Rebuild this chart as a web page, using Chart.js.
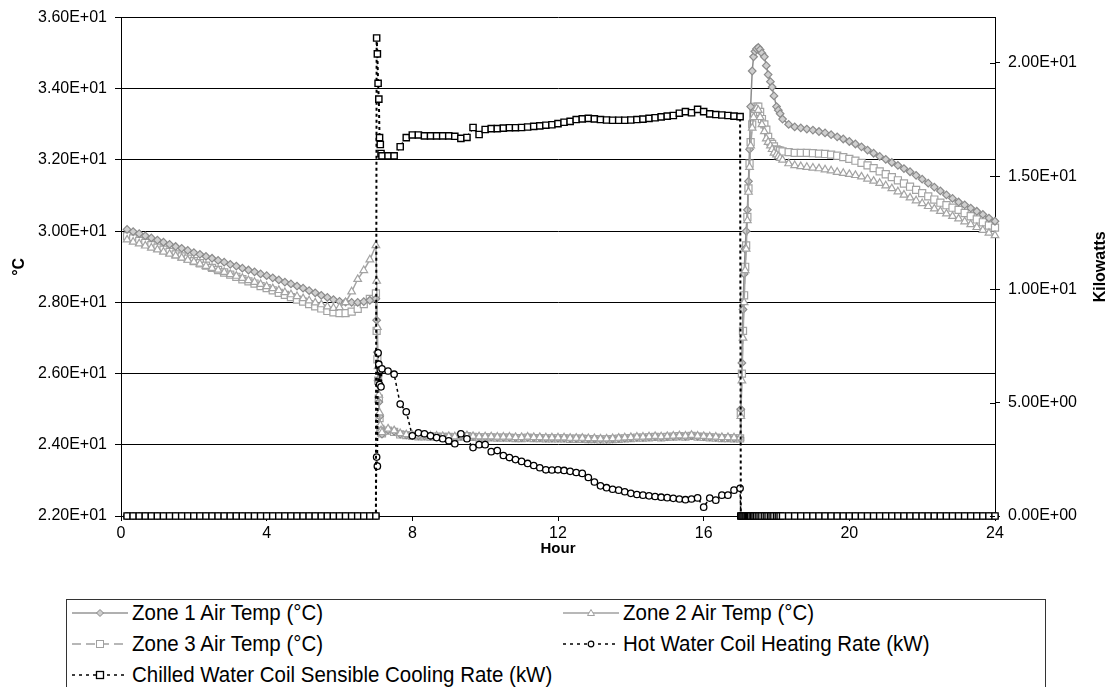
<!DOCTYPE html>
<html>
<head>
<meta charset="utf-8">
<script src="https://cdn.jsdelivr.net/npm/chart.js@4.4.1/dist/chart.umd.min.js"></script>
<style>
  body { margin:0; width:1110px; height:687px; background:#fff; position:relative; overflow:hidden; font-family:"Liberation Sans", Arial, sans-serif; }
  #c { position:absolute; left:0; top:0; }
  .legend { position:absolute; left:66px; top:599px; width:980px; height:110px; border:1px solid #333; box-sizing:border-box; }
  .item { position:absolute; height:20px; display:flex; align-items:center; white-space:nowrap; }
  .item svg { flex:none; }
  .item span { display:inline-block; margin-left:4px; font-size:22.5px; line-height:20px; transform:scaleX(.91); transform-origin:left center; color:#000; }
</style>
</head>
<body>
<canvas id="c" width="1110" height="560"></canvas>
<div class="legend">
  <div class="item" style="left:5px;top:3px">
    <svg width="56" height="20"><line x1="0" y1="10" x2="56" y2="10" stroke="#969696" stroke-width="1.5"/><polygon points="28,6.5 31.5,10 28,13.5 24.5,10" fill="#cfcfcf" stroke="#888" stroke-width="1"/></svg>
    <span>Zone 1 Air Temp (°C)</span>
  </div>
  <div class="item" style="left:496px;top:3px">
    <svg width="56" height="20"><line x1="0" y1="10" x2="56" y2="10" stroke="#a0a0a0" stroke-width="1.5"/><polygon points="28,6.5 31.5,12.5 24.5,12.5" fill="#fff" stroke="#a0a0a0" stroke-width="1"/></svg>
    <span>Zone 2 Air Temp (°C)</span>
  </div>
  <div class="item" style="left:5px;top:34px">
    <svg width="56" height="20"><line x1="0" y1="10" x2="56" y2="10" stroke="#a0a0a0" stroke-width="1.5" stroke-dasharray="9,5"/><rect x="24.5" y="6.5" width="7" height="7" fill="#fff" stroke="#a0a0a0" stroke-width="1"/></svg>
    <span>Zone 3 Air Temp (°C)</span>
  </div>
  <div class="item" style="left:496px;top:34px">
    <svg width="56" height="20"><line x1="0" y1="10" x2="56" y2="10" stroke="#000" stroke-width="1.5" stroke-dasharray="3,4"/><circle cx="28" cy="10" r="2.8" fill="#fff" stroke="#000" stroke-width="1.2"/></svg>
    <span>Hot Water Coil Heating Rate (kW)</span>
  </div>
  <div class="item" style="left:5px;top:65px">
    <svg width="56" height="20"><line x1="0" y1="10" x2="56" y2="10" stroke="#000" stroke-width="1.5" stroke-dasharray="3,4"/><rect x="24.5" y="6.5" width="7" height="7" fill="#fff" stroke="#000" stroke-width="1.3"/></svg>
    <span>Chilled Water Coil Sensible Cooling Rate (kW)</span>
  </div>
</div>
<script>
/* ── DATA ── */
// 10-minute timestep stamps (end of step), 0:10 .. 24:00
const hours = Array.from({ length: 144 }, (_, i) => (i + 1) / 6);

// °C, one value per timestep
const zone1 = [
  30.05,29.99,29.93,29.87,29.81,29.75, 29.69,29.63,29.57,29.52,29.46,29.40, 29.35,29.29,29.24,29.18,29.13,29.07,
  29.02,28.96,28.91,28.86,28.80,28.75, 28.69,28.63,28.57,28.52,28.46,28.40, 28.33,28.27,28.20,28.14,28.08,28.03,
  28.01,28.00,28.00,28.02,28.06,28.10,
  24.30,24.42,24.38,24.30,24.28,24.26, 24.25,24.25,24.24,24.24,24.23,24.23, 24.22,24.24,24.25,24.23,24.22,24.22,
  24.22,24.21,24.21,24.21,24.20,24.20, 24.21,24.20,24.20,24.19,24.19,24.19, 24.19,24.18,24.18,24.18,24.17,24.17,
  24.16,24.16,24.17,24.18,24.19,24.20, 24.21,24.21,24.22,24.23,24.22,24.23, 24.24,24.25,24.24,24.26,24.24,24.23,
  24.22,24.21,24.20,24.20,24.19,24.19,
  30.00,34.50,35.16,34.90,34.20,33.50, 33.15,33.00,32.93,32.90,32.87,32.84, 32.80,32.76,32.71,32.65,32.59,32.52,
  32.45,32.37,32.28,32.19,32.10,32.02, 31.93,31.85,31.76,31.67,31.57,31.46, 31.35,31.24,31.13,31.02,30.92,30.82,
  30.74,30.65,30.56,30.47,30.37,30.28
];
const zone2 = [
  29.76,29.70,29.65,29.59,29.53,29.48, 29.42,29.36,29.31,29.25,29.19,29.14, 29.08,29.02,28.96,28.91,28.85,28.79,
  28.74,28.68,28.62,28.57,28.51,28.45, 28.39,28.34,28.28,28.22,28.17,28.11, 28.05,27.99,27.94,27.88,27.84,27.86,
  28.00,28.30,28.65,28.90,29.20,29.60,
  24.35,24.45,24.40,24.32,24.29,24.27, 24.26,24.26,24.25,24.25,24.24,24.24, 24.23,24.25,24.26,24.24,24.23,24.23,
  24.23,24.22,24.22,24.22,24.21,24.21, 24.22,24.21,24.21,24.20,24.20,24.20, 24.20,24.19,24.19,24.19,24.18,24.18,
  24.17,24.17,24.18,24.19,24.20,24.21, 24.22,24.22,24.23,24.24,24.23,24.24, 24.25,24.26,24.25,24.27,24.25,24.24,
  24.23,24.22,24.21,24.21,24.20,24.20,
  29.50,32.90,33.40,32.80,32.40,32.15, 32.00,31.90,31.85,31.82,31.80,31.78, 31.76,31.73,31.70,31.66,31.63,31.60,
  31.57,31.53,31.47,31.41,31.35,31.28, 31.20,31.11,31.02,30.94,30.86,30.78, 30.70,30.63,30.56,30.49,30.42,30.35,
  30.27,30.19,30.11,30.03,29.95,29.88
];
const zone3 = [
  29.86,29.80,29.73,29.67,29.61,29.54, 29.48,29.42,29.35,29.29,29.23,29.16, 29.10,29.03,28.97,28.91,28.84,28.78,
  28.72,28.65,28.59,28.53,28.46,28.40, 28.34,28.27,28.21,28.15,28.08,28.02, 27.95,27.89,27.83,27.76,27.72,27.70,
  27.70,27.74,27.82,27.95,28.10,28.25,
  24.32,24.40,24.36,24.29,24.27,24.25, 24.24,24.24,24.23,24.23,24.22,24.22, 24.21,24.23,24.24,24.22,24.21,24.21,
  24.21,24.20,24.20,24.20,24.19,24.19, 24.20,24.19,24.19,24.18,24.18,24.18, 24.18,24.17,24.17,24.17,24.16,24.16,
  24.15,24.15,24.16,24.17,24.18,24.19, 24.20,24.20,24.21,24.22,24.21,24.22, 24.23,24.24,24.23,24.25,24.23,24.22,
  24.21,24.20,24.19,24.19,24.18,24.18,
  29.60,33.00,33.50,33.00,32.50,32.30, 32.24,32.22,32.20,32.20,32.20,32.19, 32.18,32.17,32.15,32.12,32.08,32.03,
  31.98,31.92,31.85,31.77,31.68,31.60, 31.52,31.43,31.34,31.25,31.16,31.07, 30.98,30.89,30.80,30.73,30.66,30.60,
  30.51,30.42,30.33,30.25,30.16,30.10
];

// kW, one value per timestep
const hotWater = [
  0,0,0,0,0,0, 0,0,0,0,0,0, 0,0,0,0,0,0, 0,0,0,0,0,0, 0,0,0,0,0,0, 0,0,0,0,0,0, 0,0,0,0,0,0,
  6.50,6.40,6.26,4.94,4.60,3.54, 3.67,3.63,3.54,3.46,3.41,3.32, 3.19,3.63,3.41,3.02,3.15,3.15,
  2.84,2.89,2.67,2.58,2.49,2.41, 2.32,2.23,2.13,2.04,2.03,2.04, 2.01,1.97,1.92,1.88,1.70,1.50,
  1.33,1.25,1.18,1.14,1.07,1.00, 0.95,0.92,0.89,0.86,0.83,0.81, 0.78,0.75,0.72,0.75,0.80,0.39,
  0.79,0.70,0.92,0.92,1.14,1.22,
  0,0,0,0,0,0, 0,0,0,0,0,0, 0,0,0,0,0,0, 0,0,0,0,0,0, 0,0,0,0,0,0, 0,0,0,0,0,0, 0,0,0,0,0,0
];
const chilledWater = [
  0,0,0,0,0,0, 0,0,0,0,0,0, 0,0,0,0,0,0, 0,0,0,0,0,0, 0,0,0,0,0,0, 0,0,0,0,0,0, 0,0,0,0,0,0,
  15.90,15.90,15.90,16.30,16.70,16.82, 16.82,16.78,16.78,16.78,16.78,16.78, 16.76,16.67,16.71,17.15,16.84,17.06,
  17.10,17.10,17.12,17.14,17.14,17.15, 17.17,17.20,17.22,17.25,17.27,17.32, 17.38,17.42,17.50,17.53,17.55,17.53,
  17.50,17.48,17.47,17.47,17.47,17.48, 17.50,17.52,17.55,17.58,17.62,17.65, 17.68,17.78,17.85,17.80,17.95,17.85,
  17.75,17.72,17.70,17.68,17.65,17.63,
  0,0,0,0,0,0, 0,0,0,0,0,0, 0,0,0,0,0,0, 0,0,0,0,0,0, 0,0,0,0,0,0, 0,0,0,0,0,0, 0,0,0,0,0,0
];

// extra system-timestep samples around start-up (7:00) and shut-down (17:00)
const detailHours = [7.02,7.04,7.06,7.08,7.10,7.12,7.14, 17.02,17.05,17.08,17.11,17.14,17.20,17.23,17.26,17.29,17.37,17.41,17.45,17.55,17.60,17.72,17.77,17.88,17.93,18.05,18.10];
const zone1Detail   = [27.5,26.6,25.8,25.2,24.8,24.5,24.35, 25.0,26.3,27.8,28.8,29.5,30.6,31.4,32.3,33.5,34.9,35.05,35.12,35.1,35.0,34.65,34.4,34.05,33.8,33.4,33.3];
const zone2Detail   = [28.6,27.3,26.2,25.4,24.9,24.55,24.4, 24.8,25.8,27.0,28.0,28.9,30.3,31.1,31.8,32.4,33.2,33.4,33.45,33.2,33.0,32.6,32.5,32.3,32.2,32.1,32.05];
const zone3Detail   = [27.2,26.4,25.8,25.3,24.75,24.45,24.35, 24.9,26.0,27.2,28.2,29.0,30.4,31.2,31.9,32.5,33.3,33.45,33.5,33.35,33.15,32.85,32.65,32.45,32.38,32.28,32.26];
const hotDetail     = [2.6,2.2,7.2,6.7,5.8,6.45,5.7, 0,0,0,0,0,0,0,0,0,0,0,0,0,0,0,0,0,0,0,0];
const chilledDetail = [21.1,20.4,19.1,18.4,16.7,16.4,16.0, 0,0,0,0,0,0,0,0,0,0,0,0,0,0,0,0,0,0,0,0];

const leftTicks  = { min: 22, max: 36, step: 2 };
const rightTicks = { min: 0, max: 22, step: 5 };

/* ── HELPERS ── */
const FONT = '"Liberation Sans", Arial, sans-serif';

function sci(v) {
  if (v === 0) return "0.00E+00";
  const e = Math.floor(Math.log10(Math.abs(v)) + 1e-9);
  const m = v / Math.pow(10, e);
  return m.toFixed(2) + "E" + (e < 0 ? "-" : "+") + String(Math.abs(e)).padStart(2, "0");
}

function points(grid, detail) {
  return hours.map((h, i) => ({ x: h, y: grid[i] }))
    .concat(detailHours.map((h, i) => ({ x: h, y: detail[i] })))
    .sort((a, b) => a.x - b.x);
}

/* ── EXTRAS: inner right ticks + right title ── */
const extras = {
  id: "extras",
  afterDraw(chart) {
    const { ctx, chartArea, scales: { y1 } } = chart;
    ctx.save();
    ctx.strokeStyle = "#000"; ctx.lineWidth = 1;
    y1.ticks.forEach(t => {
      const y = Math.round(y1.getPixelForValue(t.value)) + 0.5;
      ctx.beginPath(); ctx.moveTo(y1.left - 5, y); ctx.lineTo(y1.left, y); ctx.stroke();
    });
    ctx.fillStyle = "#000"; ctx.font = "bold 16px " + FONT;
    ctx.textAlign = "center"; ctx.textBaseline = "middle";
    ctx.translate(1101, (chartArea.top + chartArea.bottom) / 2);
    ctx.rotate(-Math.PI / 2);
    ctx.fillText("Kilowatts", 0, 0);
    ctx.restore();
  }
};

/* ── CHART ── */
const tickFont = { family: FONT, size: 16 };
const grayLine = (label, data, color, style, radius, bg, dash, order) => ({
  label, data, yAxisID: "y", order, clip: false,
  borderColor: color, borderWidth: 1.5, borderDash: dash,
  pointStyle: style, pointRadius: radius, pointBorderColor: color, pointBorderWidth: 1.2, pointBackgroundColor: bg,
  tension: 0
});

new Chart(document.getElementById("c").getContext("2d"), {
  type: "line",
  data: {
    datasets: [
      grayLine("Zone 1 Air Temp (°C)", points(zone1, zone1Detail), "#8c8c8c", "rectRot", 3.8, "#cfcfcf", [], 4),
      grayLine("Zone 2 Air Temp (°C)", points(zone2, zone2Detail), "#a3a3a3", "triangle", 4.4, "#fff", [], 3),
      grayLine("Zone 3 Air Temp (°C)", points(zone3, zone3Detail), "#a3a3a3", "rect", 5, "#fff", [8, 4], 5),
      { label: "Hot Water Coil Heating Rate (kW)", data: points(hotWater, hotDetail), yAxisID: "y1", order: 1, clip: false,
        borderColor: "#000", borderWidth: 1.5, borderDash: [3, 3],
        pointStyle: "circle", pointRadius: 3.2, pointBorderColor: "#000", pointBorderWidth: 1.3, pointBackgroundColor: "#fff", tension: 0 },
      { label: "Chilled Water Coil Sensible Cooling Rate (kW)", data: points(chilledWater, chilledDetail), yAxisID: "y1", order: 0, clip: false,
        borderColor: "#000", borderWidth: 2, borderDash: [3, 3],
        pointStyle: "rect", pointRadius: 4.4, pointBorderColor: "#000", pointBorderWidth: 1.4, pointBackgroundColor: "#fff", tension: 0 }
    ]
  },
  options: {
    responsive: false, animation: false, devicePixelRatio: 1,
    layout: { padding: { top: 13, left: 0, right: 0, bottom: 0 } },
    plugins: { legend: { display: false }, tooltip: { enabled: false } },
    scales: {
      x: {
        type: "linear", min: 0, max: 24,
        ticks: { stepSize: 4, color: "#000", font: tickFont, padding: 3, maxRotation: 0 },
        grid: { drawOnChartArea: false, tickLength: 5, color: "#000" },
        border: { color: "#000", width: 1 },
        title: { display: true, text: "Hour", color: "#000", font: { family: FONT, size: 15, weight: "bold" }, padding: { top: 0, bottom: 2 } },
        afterFit: s => { s.height = 44; }
      },
      y: {
        position: "left", min: leftTicks.min, max: leftTicks.max,
        ticks: { stepSize: leftTicks.step, color: "#000", font: tickFont, padding: 8, callback: v => sci(v) },
        grid: { color: "#000", lineWidth: 1, tickLength: 6 },
        border: { color: "#000", width: 1 },
        title: { display: true, text: "°C", color: "#000", font: { family: FONT, size: 16, weight: "bold" }, padding: { top: 10, bottom: 0 } },
        afterFit: s => { s.width = 121; }
      },
      y1: {
        position: "right", min: rightTicks.min, max: rightTicks.max,
        ticks: { stepSize: rightTicks.step, includeBounds: false, color: "#000", font: tickFont, padding: 8, callback: v => sci(v) },
        grid: { drawOnChartArea: false, tickLength: 5, color: "#000" },
        border: { color: "#000", width: 1 },
        afterFit: s => { s.width = 115; }
      }
    }
  },
  plugins: [extras]
});
</script>
</body>
</html>
